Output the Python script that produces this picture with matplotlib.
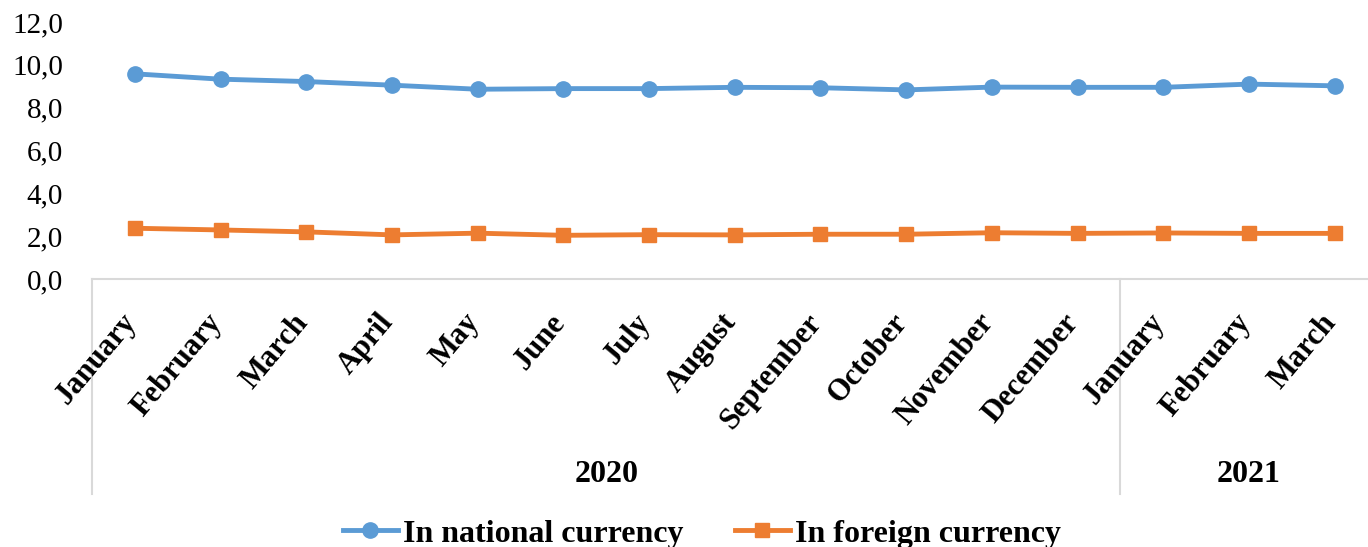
import numpy as np
import matplotlib
matplotlib.use("Agg")
import matplotlib.pyplot as plt
import matplotlib.transforms as mtransforms
from matplotlib.ticker import FuncFormatter

# ---- data ----
months = ["January", "February", "March", "April", "May", "June", "July",
          "August", "September", "October", "November", "December",
          "January", "February", "March"]
years = ["2020", "2021"]
year_counts = [12, 3]
national = [9.58, 9.33, 9.22, 9.05, 8.86, 8.89, 8.89, 8.95, 8.93, 8.83,
            8.96, 8.95, 8.95, 9.10, 9.02]
foreign = [2.37, 2.29, 2.20, 2.06, 2.14, 2.04, 2.07, 2.06, 2.09, 2.09,
           2.16, 2.13, 2.15, 2.13, 2.13]
series_names = ["In national currency", "In foreign currency"]

plt.rcParams["font.family"] = ["Liberation Serif", "DejaVu Serif"]

fig = plt.figure(figsize=(13.68, 5.47), dpi=100)
ax = fig.add_axes([92 / 1368, 268 / 547, 1285.5 / 1368, 257 / 547])

x = np.arange(len(months))
ax.plot(x, national, color="#5B9BD5", lw=3.5, marker="o", ms=11,
        label=series_names[0])
ax.plot(x, foreign, color="#ED7D31", lw=3.5, marker="s", ms=10,
        label=series_names[1])

ax.set_xlim(-0.5, len(months) - 0.5)
ax.set_ylim(0, 12)
ax.set_yticks(np.arange(0, 13, 2))
ax.yaxis.set_major_formatter(FuncFormatter(lambda v, p: f"{v:.1f}".replace(".", ",")))
ax.tick_params(axis="y", length=0, pad=21, labelsize=21)
ax.set_xticks([])

for s in ["top", "right", "left"]:
    ax.spines[s].set_visible(False)
ax.spines["bottom"].set_color("#d9d9d9")
ax.spines["bottom"].set_linewidth(1.5)

trans = mtransforms.blended_transform_factory(ax.transData, ax.transAxes)

# month labels (rotated, end of text under the category)
for i, m in enumerate(months):
    ax.text(i - 0.04, -0.15, m, transform=trans, rotation=50,
            rotation_mode="anchor", ha="right", va="center",
            fontsize=22, fontweight="bold")

# year groups
start = -0.5
for yr, n in zip(years, year_counts):
    ax.plot([start, start], [0, -0.837], transform=trans, color="#d9d9d9",
            lw=1.5, clip_on=False)
    ax.text(start + n / 2, -0.762, yr, transform=trans, ha="center",
            va="center", fontsize=23, fontweight="bold")
    start += n
ax.plot([start, start], [0, -0.837], transform=trans, color="#d9d9d9",
        lw=1.5, clip_on=False)

fig.legend(loc="center", bbox_to_anchor=(0.513, 0.024), ncol=2, frameon=False,
           prop={"size": 23, "weight": "bold"}, handlelength=1.74,
           handletextpad=0.15, columnspacing=1.6)

fig.savefig("out.png", dpi=100)
